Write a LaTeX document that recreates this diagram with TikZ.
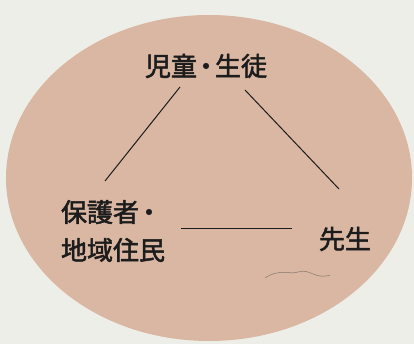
\documentclass[tikz,border=0pt]{standalone}
\usepackage{fontspec}
\newfontfamily\jpfont[FakeBold=2]{Noto Sans CJK JP}
\definecolor{bgcol}{HTML}{EEEEE8}
\definecolor{ellcol}{HTML}{D9B7A2}
\definecolor{inkcol}{HTML}{1C1C1C}
\tikzset{
  lbl/.style={font=\jpfont\fontsize{26}{38}\selectfont, text=inkcol, inner sep=0pt, align=left},
  link/.style={draw=inkcol, line width=1pt}
}
\begin{document}
\begin{tikzpicture}[x=1pt,y=-1pt]
\fill[bgcol] (0,0) rectangle (414,344);
\useasboundingbox (0,0) rectangle (414,344);
\fill[ellcol] (209,178) ellipse [x radius=203, y radius=163];
\node[lbl] (child) at (206,66) {児童\kern-4pt・\kern-4pt生徒};
\node[lbl] (parent) at (113,231) {保護者\kern-3pt・\\地域住民};
\node[lbl] (teacher) at (345,239) {先生};
\coordinate (c1) at (180,87);
\coordinate (p1) at (105,181);
\coordinate (c2) at (245,90);
\coordinate (t1) at (339,189);
\coordinate (p2) at (181,229);
\coordinate (t2) at (292,229);
\draw[link] (c1) -- (p1);
\draw[link] (c2) -- (t1);
\draw[link] (p2) -- (t2);
\draw[gray!60!black!60!ellcol, line width=0.5pt] (265,278) .. controls (280,268) and (290,275) .. (298,272) .. controls (310,268) and (315,280) .. (330,275);
\end{tikzpicture}
\end{document}
